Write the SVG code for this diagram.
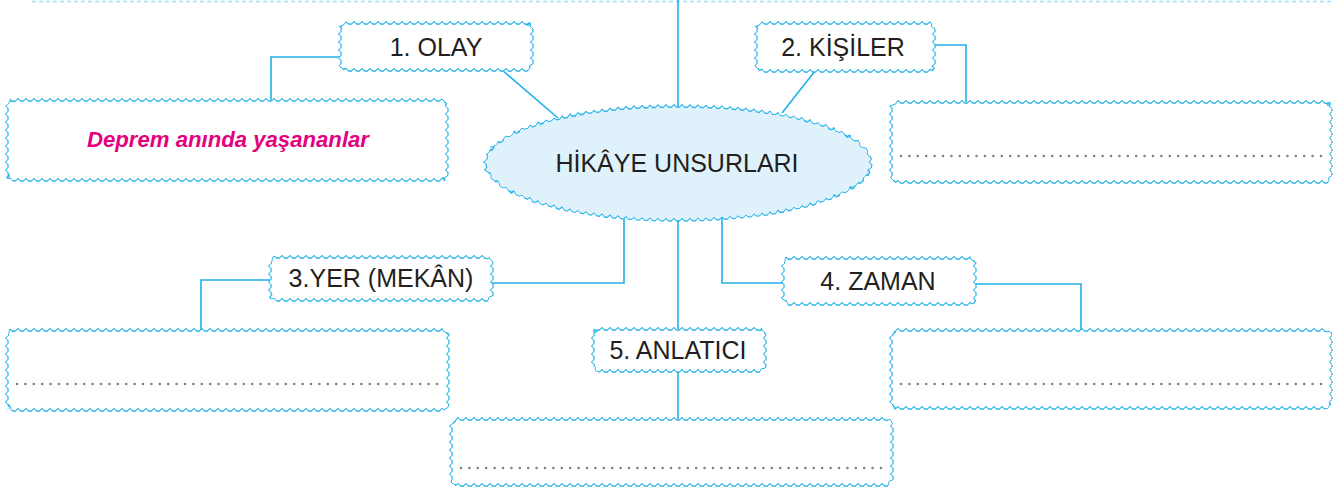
<svg xmlns="http://www.w3.org/2000/svg" width="1333" height="494" viewBox="0 0 1333 494">
<style>
.box{fill:#ffffff;stroke:#2bb5ea;stroke-width:1.3;filter:url(#wavy)}
.ell{fill:#dff2fb;stroke:#2bb5ea;stroke-width:1.3;filter:url(#wavy)}
.lbl{font-family:"Liberation Sans",Arial,sans-serif;font-size:25px;fill:#231f20;text-anchor:middle}
.con{fill:none;stroke:#1fb1e8;stroke-width:1.6}
.dots{stroke:#808080;stroke-width:2.6;stroke-linecap:round;stroke-dasharray:0 8.4}
.ans{font-family:"Liberation Sans",Arial,sans-serif;font-size:22px;font-weight:bold;font-style:italic;fill:#e5007e;text-anchor:middle}
</style>
<defs>
<filter id="wavy" filterUnits="userSpaceOnUse" x="0" y="0" width="1333" height="494" color-interpolation-filters="sRGB">
<feFlood flood-color="#000000" x="0" y="0" width="8" height="8" result="bg"/>
<feFlood flood-color="#ff0000" x="0" y="0" width="8" height="4" result="r"/>
<feFlood flood-color="#00ff00" x="0" y="0" width="4" height="8" result="g"/>
<feComposite in="r" in2="bg" operator="arithmetic" k2="1" k3="1" x="0" y="0" width="8" height="8" result="rb"/>
<feComposite in="rb" in2="g" operator="arithmetic" k2="1" k3="1" x="0" y="0" width="8" height="8" result="tile"/>
<feTile in="tile" result="tiled"/>
<feGaussianBlur in="tiled" stdDeviation="1.3" result="map"/>
<feDisplacementMap in="SourceGraphic" in2="map" scale="3" xChannelSelector="R" yChannelSelector="G"/>
</filter>
</defs>
<rect width="1333" height="494" fill="#ffffff"/>
<line x1="32" y1="1.5" x2="1333" y2="1.5" stroke="#9fdff5" stroke-width="1.3" stroke-dasharray="4 3"/>
<g id="connectors">
<line class="con" x1="678" y1="0" x2="678" y2="108"/>
<polyline class="con" points="340,57 271,57 271,100"/>
<line class="con" x1="502" y1="70" x2="558" y2="118"/>
<polyline class="con" points="934,45 966,45 966,102"/>
<line class="con" x1="815" y1="71" x2="782" y2="113"/>
<polyline class="con" points="624,216 624,283 492,283"/>
<polyline class="con" points="270,280 201,280 201,330"/>
<polyline class="con" points="722,216 722,283 783,283"/>
<polyline class="con" points="975,284 1081,284 1081,330"/>
<line class="con" x1="678" y1="218" x2="678" y2="329"/>
<line class="con" x1="678" y1="371" x2="678" y2="419"/>
</g>
<g id="center">
<ellipse class="ell" cx="678" cy="163" rx="193" ry="57"/>
<text class="lbl" x="677" y="172">HİKÂYE UNSURLARI</text>
</g>
<g id="olay">
<rect class="box" x="340" y="23" width="192" height="47" rx="7"/>
<text class="lbl" x="436" y="56">1. OLAY</text>
</g>
<g id="kisiler">
<rect class="box" x="756" y="23" width="178" height="48" rx="7"/>
<text class="lbl" x="843" y="56">2. KİŞİLER</text>
</g>
<g id="yer">
<rect class="box" x="270" y="257" width="222" height="43" rx="7"/>
<text class="lbl" x="381" y="287">3.YER (MEKÂN)</text>
</g>
<g id="zaman">
<rect class="box" x="783" y="258" width="192" height="46" rx="7"/>
<text class="lbl" x="878" y="290">4. ZAMAN</text>
</g>
<g id="anlatici">
<rect class="box" x="593" y="329" width="172" height="42" rx="7"/>
<text class="lbl" x="678" y="359">5. ANLATICI</text>
</g>
<g id="answer1">
<rect class="box" x="7" y="100" width="440" height="80" rx="7"/>
<text class="ans" x="228" y="147" textLength="282" lengthAdjust="spacingAndGlyphs">Deprem anında yaşananlar</text>
</g>
<g id="answer2">
<rect class="box" x="891" y="102" width="440" height="80" rx="7"/>
<line class="dots" x1="901" y1="156" x2="1322" y2="156"/>
</g>
<g id="answer3">
<rect class="box" x="7" y="330" width="441" height="80" rx="7"/>
<line class="dots" x1="17" y1="384" x2="438" y2="384"/>
</g>
<g id="answer4">
<rect class="box" x="891" y="330" width="440" height="78" rx="7"/>
<line class="dots" x1="901" y1="384" x2="1322" y2="384"/>
</g>
<g id="answer5">
<rect class="box" x="451" y="419" width="441" height="66" rx="7"/>
<line class="dots" x1="461" y1="468" x2="882" y2="468"/>
</g>
</svg>
